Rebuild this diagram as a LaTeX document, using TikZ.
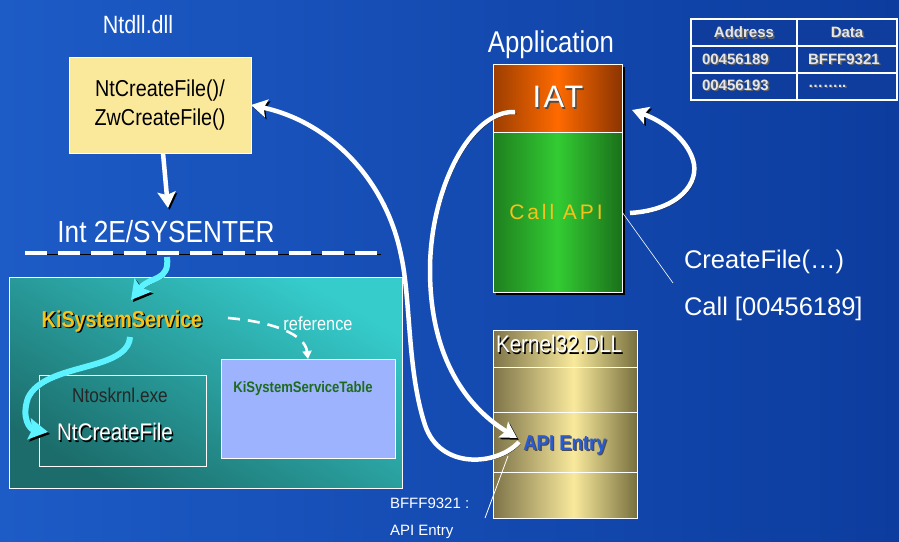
\documentclass[tikz,border=0pt]{standalone}
\usepackage{fontspec}
\setmainfont{Liberation Sans}
\newfontfamily\narf[FakeStretch=0.86]{Liberation Sans}
\newfontfamily\spacedA[LetterSpace=8]{Liberation Sans}
\newfontfamily\spacedB[LetterSpace=14]{Liberation Sans}
\usetikzlibrary{arrows.meta}
\definecolor{bgL}{HTML}{1D5BC6}
\definecolor{bgM}{HTML}{1762D4}
\definecolor{bgR}{HTML}{0C3C9E}
\definecolor{yel}{HTML}{FBE99B}
\definecolor{tealT}{HTML}{36CCCC}
\definecolor{tealB}{HTML}{1B6C6A}
\definecolor{ksst}{HTML}{9DB3FD}
\definecolor{gold}{HTML}{F7C31A}
\definecolor{dgreen}{HTML}{1E6B1E}
\definecolor{cyanA}{HTML}{5CF2FF}
\definecolor{orL}{HTML}{9C3E00}
\definecolor{orM}{HTML}{FF6A00}
\definecolor{orR}{HTML}{8A3400}
\definecolor{grL}{HTML}{1E7F1E}
\definecolor{grM}{HTML}{33CC33}
\definecolor{grR}{HTML}{1A701A}
\definecolor{kL}{HTML}{7D7449}
\definecolor{kM}{HTML}{F9E99C}
\definecolor{kR}{HTML}{77703F}
\definecolor{apiblue}{HTML}{2A5BD0}
\definecolor{tblbg}{HTML}{0E3D9E}
\definecolor{tbltxt}{HTML}{E6E6E6}
\pgfdeclarehorizontalshading{orsh}{100bp}{color(0bp)=(orL); color(25bp)=(orL); color(50bp)=(orM); color(75bp)=(orR); color(100bp)=(orR)}
\pgfdeclarehorizontalshading{grsh}{100bp}{color(0bp)=(grL); color(25bp)=(grL); color(50bp)=(grM); color(75bp)=(grR); color(100bp)=(grR)}
\pgfdeclarehorizontalshading{ksh}{100bp}{color(0bp)=(kL); color(25bp)=(kL); color(53bp)=(kM); color(75bp)=(kR); color(100bp)=(kR)}
% text with a small dark drop shadow, in one box
\newcommand\shtxt[2][black]{\makebox[0pt][l]{\kern1.4pt\raisebox{-1.4pt}{\textcolor{#1}{#2}}}#2}
\begin{document}
\begin{tikzpicture}[x=1pt,y=-1pt,
  txt/.style={inner sep=0pt, outer sep=0pt, text=white},
  nar/.style={font={\narf\fontsize{#1}{#1}\selectfont}},
  narb/.style={font={\narf\bfseries\fontsize{#1}{#1}\selectfont}},
  reg/.style={font={\fontsize{#1}{#1}\selectfont}},
  regb/.style={font={\bfseries\fontsize{#1}{#1}\selectfont}},
  boxr/.style={draw=white, line width=0.8pt, anchor=north west, inner sep=0pt, outer sep=0pt},
  whitearrow/.style={draw=white, line width=4.5pt,
    -{Stealth[length=16pt,width=18pt,inset=3pt]},
    preaction={draw=black, transform canvas={shift={(1.6pt,-1.8pt)}}}},
  cyanarrow/.style={draw=cyanA, line width=6pt,
    -{Stealth[length=19pt,width=21pt,inset=3pt]},
    preaction={draw=black, transform canvas={shift={(2pt,-2pt)}}}},
  refarrow/.style={draw=white, line width=2.6pt, dash pattern=on 12pt off 8pt,
    -{Triangle[length=8pt,width=9pt]}},
  dashline/.style={draw=white, line width=3.5pt, dash pattern=on 22pt off 11pt,
    preaction={draw=black, transform canvas={shift={(1.2pt,-1.5pt)}}}},
  thinline/.style={draw=white, line width=0.8pt}
]
\useasboundingbox (0,0) rectangle (899,541);
\shade[left color=bgL, middle color=bgM, right color=bgR] (0,0) rectangle (899,541);

% ---------- Ntdll ----------
\node[txt, nar=25] (ntdll) at (138,25) {Ntdll.dll};
\node[boxr, fill=yel, minimum width=182, minimum height=96] (ntbox) at (69,57) {};
\node[inner sep=0pt, align=center, font={\narf\fontsize{23}{29}\selectfont}] (nttxt) at (ntbox.center) {NtCreateFile()/\\ZwCreateFile()};
\coordinate (intTip) at (168,208);
\draw[whitearrow] ([xshift=3]ntbox.south) -- (intTip);

\node[txt, nar=30.5] (int2e) at (166,232) {Int 2E/SYSENTER};
\coordinate (dashL) at (25,253);
\coordinate (dashR) at (380,253);
\draw[dashline] (dashL) -- (dashR);

% ---------- kernel box ----------
\node[boxr, minimum width=393, minimum height=211, shading=axis, top color=tealT, bottom color=tealB, shading angle=-30] (kbox) at (9,277) {};
\node[boxr, fill=ksst, minimum width=174, minimum height=99] (ksst) at (221,359) {};
\node[inner sep=0pt, narb=15.2, text=dgreen] (ksstt) at (303,389) {KiSystemServiceTable};
\node[boxr, minimum width=167, minimum height=91] (ntos) at (39,375) {};
\node[inner sep=0pt, nar=20, text=black!85] (ntost) at (120,395) {Ntoskrnl.exe};
\node[txt, nar=24] (ntcf) at (115,433) {\shtxt{NtCreateFile}};

\node[txt, narb=23, text=gold] (kss) at (122,322) {\shtxt{KiSystemService}};
\node[txt, nar=19] (reflbl) at (318,324) {reference};

\coordinate (cyS) at (167,257);
\coordinate (cyE) at (131,300);
\draw[cyanarrow] (cyS) .. controls (170,282) and (150,276) .. (cyE);
\coordinate (cy2S) at (130,337);
\coordinate (cy2E) at (48,432);
\draw[cyanarrow] (cy2S) .. controls (128,372) and (45,362) .. (28,398) .. controls (21,418) and (30,429) .. (cy2E);

\coordinate (refS) at (228,318);
\draw[refarrow] (refS) .. controls (275,322) and (305,335) .. (ksst.north);

% ---------- Application ----------
\node[txt, nar=30] (applbl) at (551,45) {Application};
\fill[black] (495.5,66.5) rectangle (624.5,294.5);
\shade[shading=orsh] (493,64) rectangle (622,132);
\shade[shading=grsh] (493,132) rectangle (622,292);
\node[boxr, minimum width=129, minimum height=68] (iat) at (493,64) {};
\node[boxr, minimum width=129, minimum height=160] (callapi) at (493,132) {};
\node[txt, font={\spacedA\fontsize{31}{31}\selectfont}] (iatt) at (558,98) {\shtxt[black!70]{IAT}};
\node[txt, text=gold, font={\spacedB\fontsize{21}{21}\selectfont}] (callt) at (556,212) {Call API};

% ---------- Kernel32 ----------
\shade[shading=ksh] (493,330) rectangle (637,518);
\node[boxr, minimum width=144, minimum height=188] (k32) at (493,330) {};
\draw[thinline] (493,367) -- (637,367);
\draw[thinline] (493,412) -- (637,412);
\draw[thinline] (493,472) -- (637,472);
\node[txt, nar=24, anchor=west] (k32t) at (496,345) {\shtxt{Kernel32.DLL}};
\node[txt, narb=21.5, text=apiblue] (apie) at (565,446) {\shtxt[black!70]{API Entry}};

% ---------- labels ----------
\node[txt, reg=25.5, anchor=west] (cfl) at (684,262) {CreateFile(…)};
\node[txt, reg=25.5, anchor=west] (calll) at (684,309) {Call [00456189]};
\node[txt, reg=15, anchor=west] (bfl) at (390,503) {BFFF9321 :};
\node[txt, reg=15, anchor=west] (ael) at (390,532) {API Entry};
\coordinate (cfLineE) at (673,283);
\draw[draw=white, line width=0.6pt] (callapi.east) -- (cfLineE);
\coordinate (aeLineS) at (508,456);
\coordinate (aeLineE) at (485,518);
\draw[thinline] (aeLineS) -- (aeLineE);

% ---------- big white arrows ----------
\coordinate (aS) at (515,112);
\coordinate (aE) at (517,438);
\draw[whitearrow] (aS) .. controls (470,110) and (430,190) .. (430,270) .. controls (430,352) and (462,404) .. (aE);
\coordinate (bS) at (519,442);
\draw[whitearrow] (bS) .. controls (497,466) and (440,470) .. (425,425) .. controls (407,370) and (411,300) .. (401,255) .. controls (386,180) and (330,122) .. (ntbox.east);
\coordinate (cS) at (630,213);
\coordinate (cE) at (632,110);
\draw[whitearrow] (cS) .. controls (680,210) and (700,182) .. (693,160) .. controls (687,140) and (665,122) .. (cE);

% ---------- table ----------
\fill[tblbg] (691,19) rectangle (897,100);
\draw[white, line width=1.3pt] (691,46) -- (897,46);
\draw[white, line width=1.3pt] (691,73) -- (897,73);
\draw[white, line width=1.3pt] (797,19) -- (797,100);
\draw[white, line width=2.6pt] (691,19) rectangle (897,100);
\begin{scope}[every node/.style={txt, regb=15, text=tbltxt}]
\node (thA) at (744,33) {\shtxt[black!60]{Address}};
\node (thD) at (847,33) {\shtxt[black!60]{Data}};
\node[anchor=west] (r1a) at (702,60) {\shtxt[black!60]{00456189}};
\node[anchor=west] (r1d) at (808,60) {\shtxt[black!60]{BFFF9321}};
\node[anchor=west] (r2a) at (702,86) {\shtxt[black!60]{00456193}};
\node[anchor=west] (r2d) at (808,87) {\shtxt[black!60]{……..}};
\end{scope}
\end{tikzpicture}
\end{document}
